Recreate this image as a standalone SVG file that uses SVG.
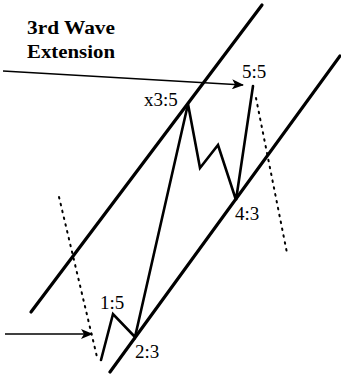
<svg xmlns="http://www.w3.org/2000/svg" width="341" height="378" viewBox="0 0 341 378">
<style>
.chan{stroke:#000;stroke-width:3.2;fill:none;stroke-linecap:round}
.wave{stroke:#000;stroke-width:2.6;fill:none;stroke-linejoin:miter;stroke-linecap:round}
.dot{stroke:#000;stroke-width:2;fill:none;stroke-dasharray:1.6 5.4;stroke-linecap:round}
.arr{stroke:#000;stroke-width:1.6;fill:none}
.lbl{font-family:"Liberation Serif",serif;font-size:19px;fill:#000}
.ttl{font-family:"Liberation Serif",serif;font-size:19px;font-weight:bold;fill:#000}
</style>
<defs>
<marker id="ah" viewBox="0 0 12 10" refX="11" refY="5" markerWidth="12" markerHeight="10" markerUnits="userSpaceOnUse" orient="auto">
<path d="M0,0 L12,5 L0,10 L3,5 Z" fill="#000"/>
</marker>
</defs>
<rect width="341" height="378" fill="#fff"/>
<g id="title">
<text class="ttl" x="27" y="34" textLength="88" lengthAdjust="spacingAndGlyphs">3rd Wave</text>
<text class="ttl" x="27" y="58" textLength="88" lengthAdjust="spacingAndGlyphs">Extension</text>
</g>
<g id="connectors">
<line id="upper-channel" class="chan" x1="31" y1="312" x2="262" y2="5"/>
<line id="lower-channel" class="chan" x1="110" y1="372" x2="340" y2="56"/>
<polyline id="wave" class="wave" points="101,360 113,314 135,337 188,104 200,168 218,145 236,200 253,86"/>
<line id="dotted-left" class="dot" x1="59" y1="197" x2="97" y2="357"/>
<line id="dotted-right" class="dot" x1="256" y1="98" x2="287" y2="253"/>
<line id="arrow-top" class="arr" x1="3" y1="71" x2="243" y2="85" marker-end="url(#ah)"/>
<line id="arrow-bottom" class="arr" x1="5" y1="334" x2="92" y2="334" marker-end="url(#ah)"/>
</g>
<g id="n15"><text class="lbl" x="100" y="309">1:5</text></g>
<g id="n23"><text class="lbl" x="135" y="358">2:3</text></g>
<g id="nx35"><text class="lbl" x="144" y="106">x3:5</text></g>
<g id="n43"><text class="lbl" x="235" y="220">4:3</text></g>
<g id="n55"><text class="lbl" x="242" y="78">5:5</text></g>
</svg>
